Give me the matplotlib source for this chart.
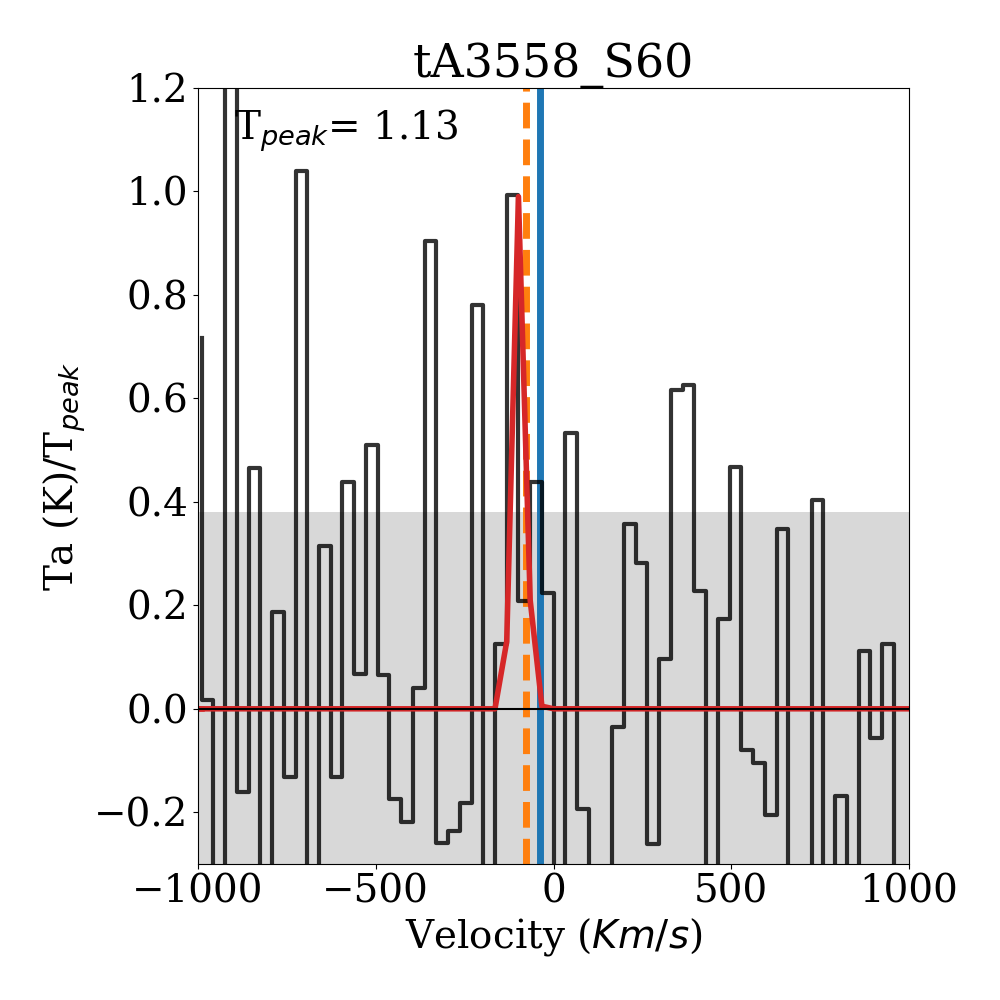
import numpy as np
import matplotlib
matplotlib.use('Agg')
import matplotlib.pyplot as plt

plt.rcParams['font.family'] = 'DejaVu Serif'
plt.rcParams['mathtext.fontset'] = 'dejavusans'

# channel velocities (km/s) and normalised antenna temperature
vel = [-989.6, -956.6, -923.6, -890.6, -857.6, -824.6, -791.6, -758.6, -725.6, -692.6,
       -659.6, -626.6, -593.6, -560.6, -527.6, -494.6, -461.6, -428.6, -395.6, -362.6,
       -329.6, -296.6, -263.6, -230.6, -197.6, -164.6, -131.6, -98.6, -65.6, -32.6,
       0.4, 33.4, 66.4, 99.4, 132.4, 165.4, 198.4, 231.4, 264.4, 297.4,
       330.4, 363.4, 396.4, 429.4, 462.4, 495.4, 528.4, 561.4, 594.4, 627.4,
       660.4, 693.4, 726.4, 759.4, 792.4, 825.4, 858.4, 891.4, 924.4, 957.4,
       990.4]
ta = [0.717, 0.017, -0.45, 1.35, -0.160, 0.465, -0.42, 0.188, -0.131, 1.039,
      -0.40, 0.315, -0.131, 0.438, 0.067, 0.509, 0.066, -0.175, -0.218, 0.040,
      0.905, -0.260, -0.237, -0.183, 0.781, -0.38, 0.126, 0.994, 0.208, 0.438,
      0.223, -0.36, 0.534, -0.193, -0.40, -0.35, -0.035, 0.358, 0.282, -0.262,
      0.096, 0.616, 0.626, 0.227, -0.40, 0.173, 0.467, -0.079, -0.104, -0.205,
      0.348, -0.38, -0.42, 0.403, -0.36, -0.168, -0.40, 0.111, -0.057, 0.126,
      -0.38]
# gaussian fit evaluated on the same channels (non-zero only near the line)
fit = [0.0] * len(vel)
fit[26] = 0.13
fit[27] = 0.99
fit[28] = 0.21
fit[29] = 0.005

tpeak = 1.13
rms_level = 0.38
v_opt = -76.0
v_fit = -37.0

fig = plt.figure(figsize=(10, 10), dpi=100)
ax = fig.add_axes([0.198, 0.136, 0.711, 0.776])

ax.axhspan(-0.5, rms_level, color='grey', alpha=0.3, lw=0)
ax.axvline(v_fit, color='tab:blue', lw=5)
ax.axvline(v_opt, color='tab:orange', lw=5, ls='--')
ax.step(vel, ta, where='pre', color='k', alpha=0.8, lw=3)
ax.plot(vel + [1023.4], fit + [0.0], color='tab:red', lw=4)
ax.plot([-1100] + vel[:1], [0.0, 0.0], color='tab:red', lw=4)
ax.axhline(0, color='k', lw=1.5)

ax.text(-900, 1.1, r'T$_{peak}$= ' + str(tpeak), fontsize=28)

ax.set_xlim(-1000, 1000)
ax.set_ylim(-0.3, 1.2)
ax.set_xticks([-1000, -500, 0, 500, 1000])
ax.tick_params(labelsize=28)
ax.set_xlabel(r'Velocity ($Km/s$)', fontsize=28)
ax.set_ylabel(r'Ta (K)/T$_{peak}$', fontsize=28)
ax.set_title('tA3558_S60', fontsize=33)

plt.savefig('out.png')
